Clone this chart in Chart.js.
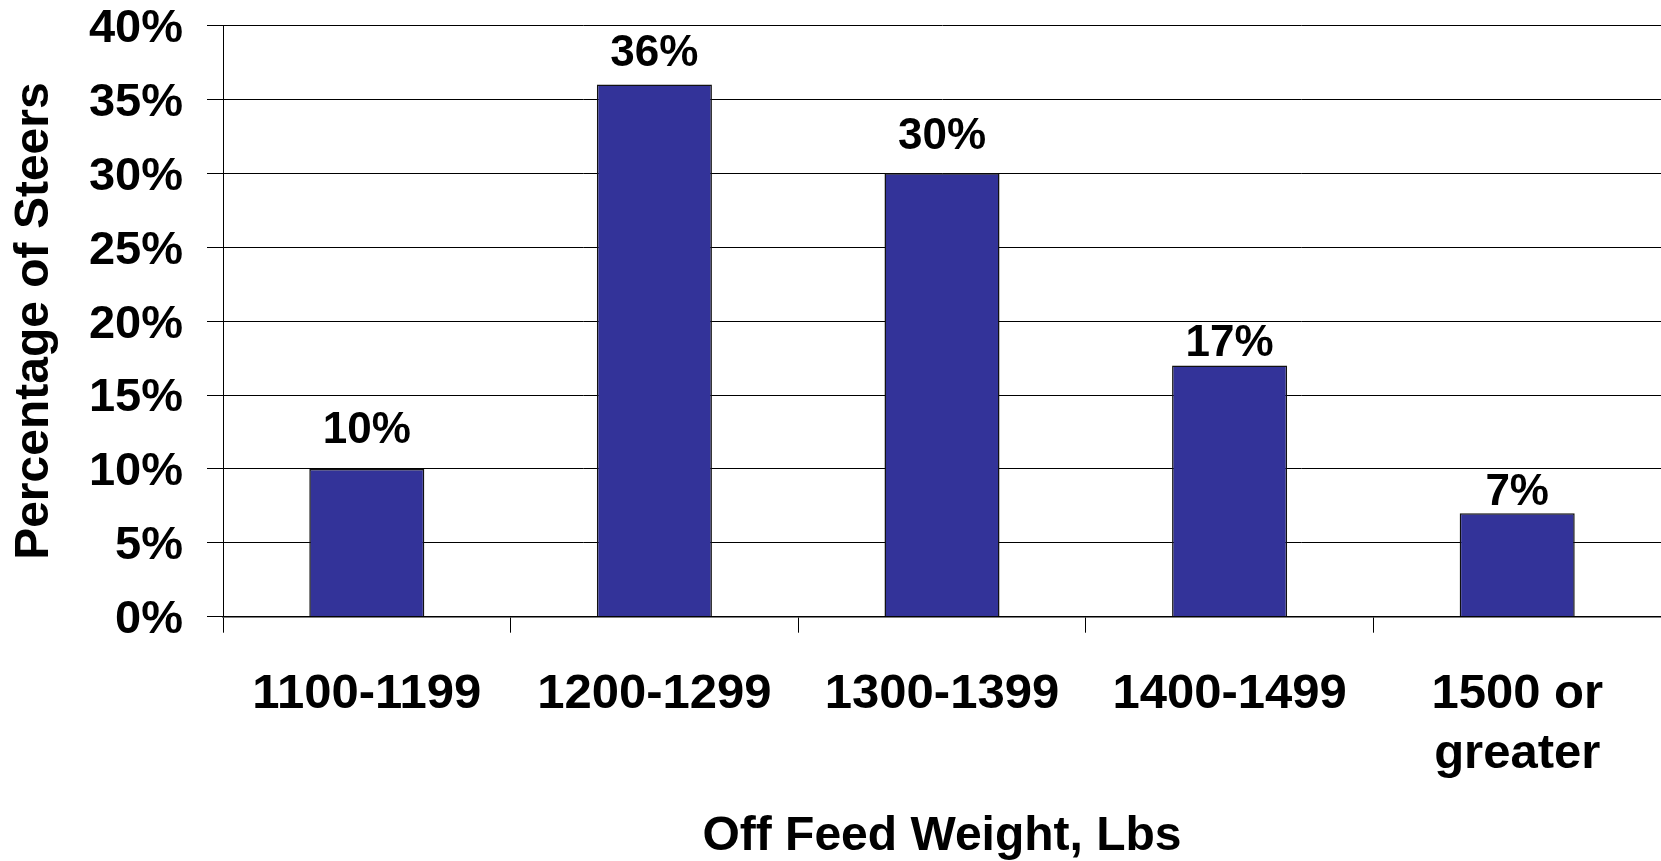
<!DOCTYPE html>
<html>
<head>
<meta charset="utf-8">
<script src="https://cdn.jsdelivr.net/npm/chart.js@4.4.1/dist/chart.umd.min.js"></script>
<style>
  html, body { margin: 0; padding: 0; background: #ffffff; }
  #wrap { width: 1661px; height: 861px; }
</style>
</head>
<body>
<div id="wrap"><canvas id="c" width="1661" height="861"></canvas></div>
<script>
// ---- data ----
const categories = ['1100-1199', '1200-1299', '1300-1399', '1400-1499', ['1500 or', 'greater']];
const percentOfSteers = [10, 36, 30, 17, 7];
const yTickValues = [0, 5, 10, 15, 20, 25, 30, 35, 40];
const xAxisTitle = 'Off Feed Weight, Lbs';
const yAxisTitle = 'Percentage of Steers';

const FONT = '"Liberation Sans", Arial, Helvetica, sans-serif';

const barLabelPlugin = {
  id: 'barLabels',
  afterDatasetsDraw(chart, args, opts) {
    const ctx = chart.ctx;
    const meta = chart.getDatasetMeta(0);
    const values = chart.data.datasets[0].data;
    ctx.save();
    ctx.font = 'bold ' + opts.size + 'px ' + FONT;
    ctx.fillStyle = '#000';
    ctx.textAlign = 'center';
    ctx.textBaseline = 'alphabetic';
    meta.data.forEach((bar, i) => {
      const gap = (opts.gaps && opts.gaps[i] != null) ? opts.gaps[i] : 12;
      ctx.fillText(values[i] + '%', bar.x, bar.y - gap);
    });
    ctx.restore();
  }
};

new Chart(document.getElementById('c'), {
  type: 'bar',
  data: {
    labels: categories,
    datasets: [{
      data: percentOfSteers,
      backgroundColor: '#333399',
      borderColor: '#111111',
      borderWidth: 1.5,
      borderSkipped: 'bottom',
      barPercentage: 0.4,
      categoryPercentage: 1.0
    }]
  },
  options: {
    responsive: false,
    animation: false,
    devicePixelRatio: 1,
    layout: { padding: { top: 25.5, right: 0, bottom: 0, left: 0 } },
    plugins: {
      legend: { display: false },
      tooltip: { enabled: false },
      barLabels: { size: 44, gaps: [26, 19, 24, 9, 8] }
    },
    scales: {
      x: {
        offset: true,
        grid: {
          display: true, offset: true, drawOnChartArea: false, drawTicks: true,
          tickLength: 16, color: '#000', lineWidth: 1
        },
        border: { display: true, color: '#000', width: 1.5 },
        ticks: {
          color: '#000', padding: 32, maxRotation: 0, minRotation: 0, autoSkip: false,
          font: { family: FONT, size: 49, weight: 'bold', lineHeight: 1.22 }
        },
        title: {
          display: true, text: xAxisTitle, color: '#000',
          font: { family: FONT, size: 48, weight: 'bold', lineHeight: 1 },
          padding: { top: 0, bottom: 0 }
        },
        afterFit(s) { s.height = 244.3; s.paddingLeft = 0; s.paddingRight = 0; }
      },
      y: {
        min: 0, max: 40,
        afterBuildTicks(s) { s.ticks = yTickValues.map(v => ({ value: v })); },
        grid: { color: '#000', lineWidth: 1, drawTicks: true, tickLength: 16 },
        border: { display: true, color: '#000', width: 1 },
        ticks: {
          color: '#000', padding: 24, labelOffset: 3.5,
          callback: v => v + '%',
          font: { family: FONT, size: 47, weight: 'bold', lineHeight: 1 }
        },
        title: {
          display: true, text: yAxisTitle, color: '#000',
          font: { family: FONT, size: 48, weight: 'bold', lineHeight: 1 },
          padding: { top: 11, bottom: 0 }
        },
        afterFit(s) { s.width = 223; s.paddingTop = 0; s.paddingBottom = 0; }
      }
    }
  },
  plugins: [barLabelPlugin]
});
</script>
</body>
</html>
